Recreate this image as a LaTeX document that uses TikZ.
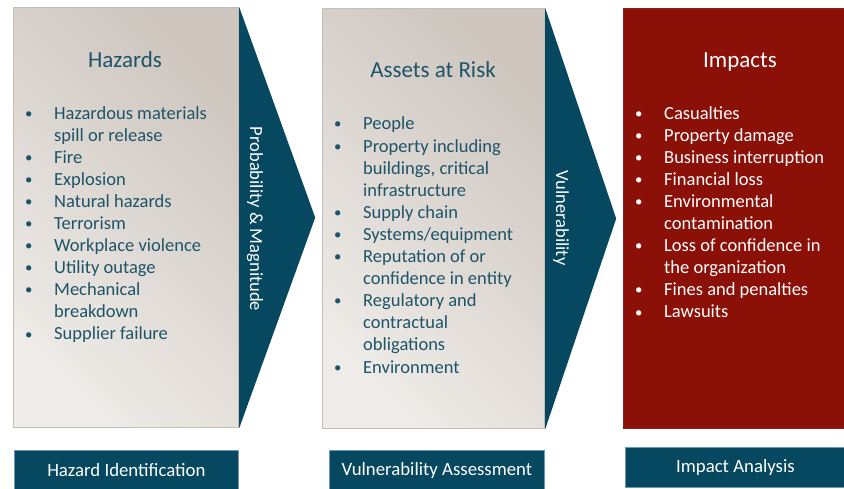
\documentclass[tikz,border=0pt]{standalone}
\usepackage{fontspec}
\setmainfont{Carlito}
\usepackage{xcolor}
\usetikzlibrary{positioning, calc}
\definecolor{tealdark}{RGB}{6,72,96}
\definecolor{tealtext}{RGB}{30,84,104}
\definecolor{riskred}{RGB}{139,16,8}
\definecolor{panellight}{RGB}{238,235,232}
\definecolor{paneldark}{RGB}{206,198,191}
\definecolor{paneledge}{RGB}{198,190,180}
\definecolor{boxedge}{RGB}{110,150,185}
\tikzstyle{Panel} = [
draw=paneledge,
line width=1.2pt,
anchor=north west,
inner sep=0pt,
top color=paneldark, bottom color=panellight, shading angle=-45]
\tikzstyle{PanelRed} = [
draw=riskred!85!gray,
line width=1.2pt,
anchor=north west,
inner sep=0pt,
fill=riskred]
\tikzstyle{Title} = [text=tealtext, anchor=base, font=\fontsize{23}{27}\selectfont]
% lists are placed by the baseline of their last line
\tikzstyle{List} = [text=tealtext, align=left, anchor=base west, inner sep=0pt,
font=\fontsize{18.5}{22.1}\selectfont]
\tikzstyle{Stage} = [fill=tealdark, draw=boxedge, line width=0.8pt, text=white,
anchor=north west, inner sep=0pt, font=\fontsize{18.8}{22}\selectfont]
\tikzstyle{Side} = [text=white, rotate=-90, font=\fontsize{18.5}{22}\selectfont]
\newcommand{\bul}{\makebox[29pt][l]{\raisebox{1pt}{\scalebox{0.8}{\textbullet}}}}
\newcommand{\cnt}{\hspace*{29pt}}

\begin{document}
\begin{tikzpicture}[x=1pt, y=-1pt]
    \useasboundingbox (0,0) rectangle (844,489);

    \node [Panel, minimum width=225pt, minimum height=420pt] (haz) at (13,7) {};
    \node [Panel, minimum width=222pt, minimum height=420pt] (ast) at (322,8) {};
    \node [PanelRed, minimum width=222pt, minimum height=420pt] (imp) at (623,8) {};

    \fill[tealdark] (haz.north east) -- ($(haz.east)+(76,0)$) -- (haz.south east) -- cycle;
    \fill[tealdark] (ast.north east) -- ($(ast.east)+(71,0)$) -- (ast.south east) -- cycle;
    \node [Side] (pm) at (255,219) {Probability \& Magnitude};
    \node [Side] (vul) at (561,218) {Vulnerability};

    \node [Title] (hazT) at (125,68) {Hazards};
    \node [Title] (astT) at (433,78) {Assets at Risk};
    \node [Title, text=white] (impT) at (740,68) {Impacts};

    \node [List] (hazL) at (25,340) {\bul Hazardous materials\\ \cnt spill or release\\
        \bul Fire\\ \bul Explosion\\ \bul Natural hazards\\ \bul Terrorism\\
        \bul Workplace violence\\ \bul Utility outage\\ \bul Mechanical\\
        \cnt breakdown\\ \bul Supplier failure};
    \node [List] (astL) at (334,373) {\bul People\\ \bul Property including\\
        \cnt buildings, critical\\ \cnt infrastructure\\ \bul Supply chain\\
        \bul Systems/equipment\\ \bul Reputation of or\\ \cnt confidence in entity\\
        \bul Regulatory and\\ \cnt contractual\\ \cnt obligations\\ \bul Environment};
    \node [List, text=white] (impL) at (635,318) {\bul Casualties\\ \bul Property damage\\
        \bul Business interruption\\ \bul Financial loss\\ \bul Environmental\\
        \cnt contamination\\ \bul Loss of confidence in\\ \cnt the organization\\
        \bul Fines and penalties\\ \bul Lawsuits};

    \node [Stage, minimum width=224pt, minimum height=40pt] (s1) at (14,450) {Hazard Identification};
    \node [Stage, minimum width=215pt, minimum height=40pt] (s2) at (329,450) {Vulnerability Assessment};
    \node [Stage, minimum width=220pt, minimum height=40pt] (s3) at (625,447) {Impact Analysis};
\end{tikzpicture}
\end{document}
